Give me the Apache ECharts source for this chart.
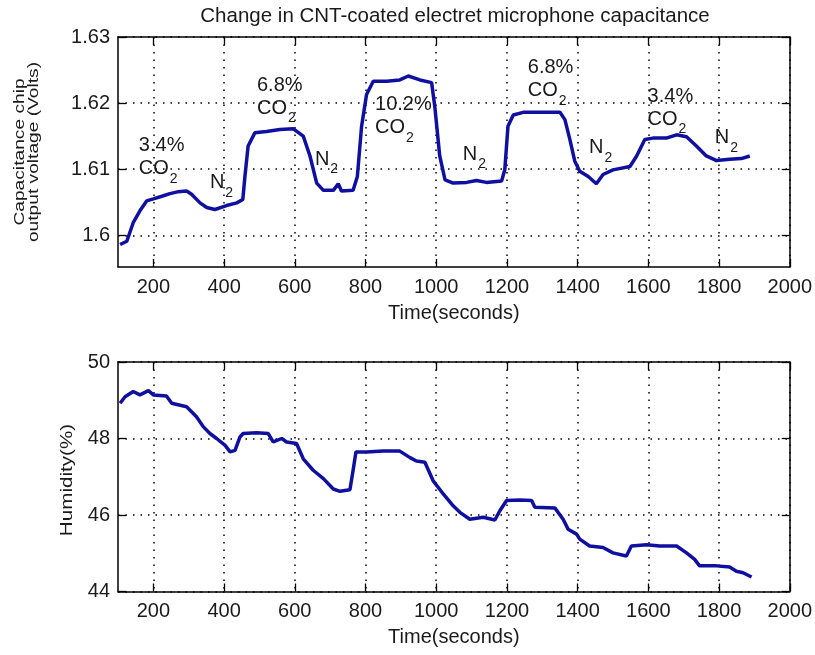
<!DOCTYPE html>
<html><head><meta charset="utf-8">
<script src="https://cdn.jsdelivr.net/npm/echarts@6/dist/echarts.min.js"></script>
<style>html,body{margin:0;padding:0;background:#fff}#c{width:815px;height:655px}</style>
</head><body><div id="c"></div>
<script>
const titleText = 'Change in CNT-coated electret microphone capacitance';
const timeTicks = [200, 400, 600, 800, 1000, 1200, 1400, 1600, 1800, 2000];
const voltTicks = [1.60, 1.61, 1.62, 1.63];
const humTicks = [44, 46, 48, 50];

const voltTime = [106,125,143,162,181,200,224,247,271,294,308,332,351,374,407,436,453,459,468,487,520,558,596,624,643,662,681,709,723,732,765,777,789,803,822,860,897,921,954,987,996,1010,1025,1048,1086,1114,1142,1185,1194,1203,1218,1246,1293,1350,1364,1378,1392,1406,1430,1453,1472,1500,1548,1567,1590,1613,1651,1680,1708,1736,1764,1793,1830,1863,1887];
const voltValues = [1.5986,1.5991,1.6019,1.6037,1.6052,1.6055,1.6059,1.6063,1.6066,1.6067,1.6062,1.6049,1.6042,1.6039,1.6045,1.6049,1.6054,1.6089,1.6135,1.6155,1.6157,1.6160,1.6161,1.6150,1.6120,1.6079,1.6068,1.6068,1.6078,1.6067,1.6068,1.6089,1.6165,1.6213,1.6233,1.6233,1.6235,1.6241,1.6235,1.6231,1.6195,1.6120,1.6084,1.6079,1.6080,1.6083,1.6080,1.6082,1.6099,1.6165,1.6182,1.6186,1.6186,1.6186,1.6175,1.6145,1.6112,1.6097,1.6089,1.6078,1.6092,1.6099,1.6104,1.6120,1.6145,1.6147,1.6147,1.6152,1.6149,1.6135,1.6120,1.6113,1.6115,1.6116,1.6120];

const humTime = [106,120,143,162,186,200,237,252,294,322,341,360,379,403,417,431,445,454,492,525,539,563,577,605,624,652,681,709,728,756,765,773,803,850,897,926,944,968,991,1020,1048,1067,1095,1133,1166,1180,1199,1237,1270,1279,1336,1359,1373,1397,1406,1434,1472,1500,1538,1552,1595,1632,1680,1708,1731,1745,1793,1830,1849,1868,1892];
const humValues = [48.92,49.09,49.23,49.14,49.25,49.14,49.11,48.92,48.83,48.57,48.31,48.13,48.0,47.82,47.65,47.69,48.04,48.13,48.15,48.13,47.91,48.0,47.91,47.87,47.47,47.17,46.95,46.68,46.62,46.66,47.17,47.65,47.65,47.67,47.67,47.50,47.41,47.38,46.90,46.55,46.24,46.07,45.89,45.94,45.87,46.11,46.38,46.39,46.38,46.20,46.18,45.89,45.63,45.5,45.37,45.19,45.15,45.01,44.93,45.19,45.22,45.19,45.19,45.01,44.84,44.67,44.67,44.64,44.53,44.49,44.38];

// annotation anchors: [time, voltage] of first-line baseline-left
const annoTime = [159, 360, 493, 657, 827, 1075, 1259, 1432, 1598, 1788];
const annoVolt = [1.6125, 1.6069, 1.6216, 1.6104, 1.6187, 1.6112, 1.6243, 1.6122, 1.6200, 1.6137];
const annoLines = [['3.4%','CO'], ['N'], ['6.8%','CO'], ['N'], ['10.2%','CO'], ['N'], ['6.8%','CO'], ['N'], ['3.4%','CO'], ['N']];
const annoSub = '2';

const FONT = 'Liberation Sans, Arial, Helvetica, sans-serif';
const TXT = '#1a1a1a';
const LINE = '#1010a0';

const chart = echarts.init(document.getElementById('c'), null, {renderer: 'canvas'});
const plain = v => String(+v.toFixed(4));

function xAxes(grid) {
  return [{
    type: 'value', gridIndex: grid, position: 'bottom', min: 100, max: 2000,
    axisLine: {show: true, onZero: false, lineStyle: {color: '#000', width: 1.5}},
    axisTick: {show: true, inside: true, length: 8, customValues: timeTicks, lineStyle: {color: '#000', width: 1.3}},
    axisLabel: {show: true, customValues: timeTicks, formatter: plain, fontSize: 20, fontFamily: FONT, color: TXT, margin: 10},
    splitLine: {show: true, lineStyle: {color: '#000', width: 1.5, type: [1.5, 6]}},
    name: 'Time(seconds)', nameLocation: 'middle', nameGap: 36,
    nameTextStyle: {fontSize: 20, fontFamily: FONT, color: TXT}
  }, {
    type: 'value', gridIndex: grid, position: 'top', min: 100, max: 2000,
    axisLine: {show: true, onZero: false, lineStyle: {color: '#000', width: 1.5}},
    axisTick: {show: true, inside: true, length: 8, customValues: timeTicks, lineStyle: {color: '#000', width: 1.3}},
    axisLabel: {show: false}, splitLine: {show: false}
  }];
}
function yAxes(grid, min, max, ticks) {
  return [{
    type: 'value', gridIndex: grid, position: 'left', min: min, max: max,
    axisLine: {show: true, onZero: false, lineStyle: {color: '#000', width: 1.5}},
    axisTick: {show: true, inside: true, length: 8, customValues: ticks, lineStyle: {color: '#000', width: 1.3}},
    axisLabel: {show: true, customValues: ticks, formatter: plain, fontSize: 20, fontFamily: FONT, color: TXT, margin: 8},
    splitLine: {show: true, lineStyle: {color: '#000', width: 1.5, type: [1.5, 6]}}
  }, {
    type: 'value', gridIndex: grid, position: 'right', min: min, max: max,
    axisLine: {show: true, onZero: false, lineStyle: {color: '#000', width: 1.5}},
    axisTick: {show: true, inside: true, length: 8, customValues: ticks, lineStyle: {color: '#000', width: 1.3}},
    axisLabel: {show: false}, splitLine: {show: false}
  }];
}

const option = {
  animation: false,
  backgroundColor: '#fff',
  grid: [
    {left: 118, right: 25, top: 37, height: 230},
    {left: 118, right: 25, top: 362, height: 229.5}
  ],
  xAxis: [...xAxes(0), ...xAxes(1)],
  yAxis: [...yAxes(0, 1.5952, 1.63, voltTicks), ...yAxes(1, 44, 50, humTicks)],
  series: [{
    type: 'line', xAxisIndex: 0, yAxisIndex: 0, showSymbol: false, symbol: 'none',
    data: voltTime.map((t, i) => [t, voltValues[i]]),
    lineStyle: {color: LINE, width: 3.5}, z: 5
  }, {
    type: 'line', xAxisIndex: 2, yAxisIndex: 2, showSymbol: false, symbol: 'none',
    data: humTime.map((t, i) => [t, humValues[i]]),
    lineStyle: {color: LINE, width: 3.5}, z: 5
  }]
};
chart.setOption(option);

// text graphics: title, rotated y names, annotations
const ctx = document.createElement('canvas').getContext('2d');
function textWidth(s, size) { ctx.font = size + 'px ' + FONT; return ctx.measureText(s).width; }

const graphics = [];
graphics.push({type: 'text', x: 455, y: 16, style: {text: titleText, font: '20.5px ' + FONT, fill: TXT, align: 'center', verticalAlign: 'middle'}});
graphics.push({type: 'text', x: 27, y: 152, rotation: Math.PI / 2, scaleX: 1.37,
  style: {text: 'Capacitance chip\noutput voltage (Volts)', font: '14px ' + FONT, fill: TXT, align: 'center', verticalAlign: 'middle', lineHeight: 14.5}});
graphics.push({type: 'text', x: 67, y: 480, rotation: Math.PI / 2, scaleX: 1.25,
  style: {text: 'Humidity(%)', font: '16.5px ' + FONT, fill: TXT, align: 'center', verticalAlign: 'middle'}});

annoTime.forEach((t, i) => {
  const p = chart.convertToPixel({xAxisIndex: 0, yAxisIndex: 0}, [t, annoVolt[i]]);
  const lines = annoLines[i];
  lines.forEach((ln, j) => {
    const base = p[1] + j * 23;
    graphics.push({type: 'text', x: p[0], y: base - 7, style: {text: ln, font: '20px ' + FONT, fill: TXT, align: 'left', verticalAlign: 'middle'}});
    if (j === lines.length - 1) {
      const w = textWidth(ln, 20);
      graphics.push({type: 'text', x: p[0] + w + 1, y: base + 8 - 5, style: {text: annoSub, font: '14px ' + FONT, fill: TXT, align: 'left', verticalAlign: 'middle'}});
    }
  });
});
chart.setOption({graphic: graphics});
</script>
</body></html>
